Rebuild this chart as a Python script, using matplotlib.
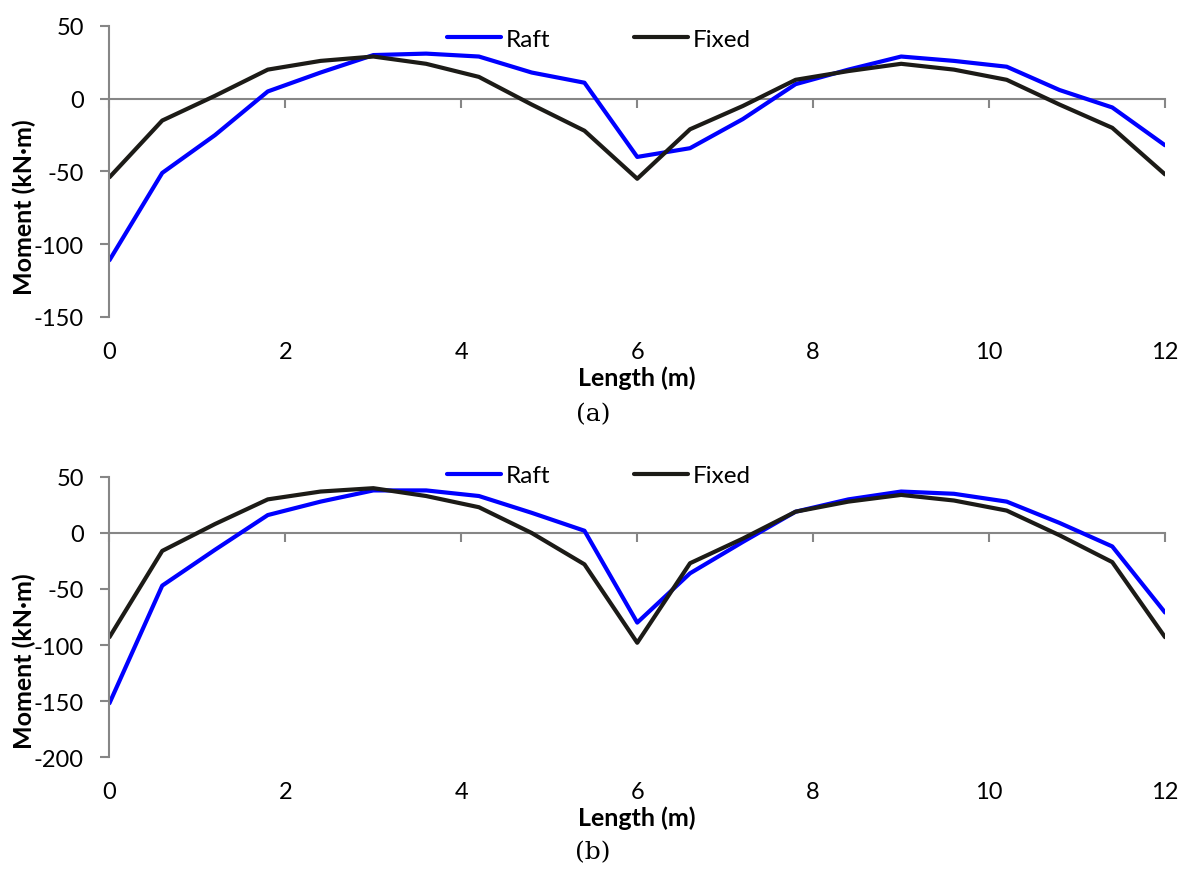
import matplotlib
matplotlib.use('Agg')
import matplotlib.pyplot as plt

length = [0, 0.6, 1.2, 1.8, 2.4, 3.0, 3.6, 4.2, 4.8, 5.4, 6.0,
          6.6, 7.2, 7.8, 8.4, 9.0, 9.6, 10.2, 10.8, 11.4, 12.0]

# (a)
raft_a = [-111, -51, -25, 5, 18, 30, 31, 29, 18, 11, -40,
          -34, -14, 10, 20, 29, 26, 22, 6, -6, -32]
fixed_a = [-54, -15, 2, 20, 26, 29, 24, 15, -4, -22, -55,
           -21, -5, 13, 19, 24, 20, 13, -4, -20, -52]

# (b)
raft_b = [-152, -47, -15, 16, 28, 38, 38, 33, 18, 2, -80,
          -36, -8, 19, 30, 37, 35, 28, 9, -12, -71]
fixed_b = [-93, -16, 8, 30, 37, 40, 33, 23, 0, -28, -98,
           -27, -5, 19, 28, 34, 29, 20, -2, -26, -93]

x_ticks = [0, 2, 4, 6, 8, 10, 12]
ylims_a = (-150, 50)
ylims_b = (-200, 50)

plt.rcParams['font.family'] = ['Lato', 'DejaVu Sans']
plt.rcParams['axes.unicode_minus'] = False
grey = '#868686'
blue = '#0000FF'
black = '#1C1B17'


def panel(ax, raft, fixed, ylim, xlab_y, ylab_y, leg_y):
    ax.plot(length, raft, color=blue, lw=3, label='Raft', solid_capstyle='round')
    ax.plot(length, fixed, color=black, lw=3, label='Fixed', solid_capstyle='round')
    ax.set_xlim(0, 12)
    ax.set_ylim(*ylim)
    ax.set_yticks(list(range(ylim[0], ylim[1] + 1, 50)))
    for s in ['top', 'right']:
        ax.spines[s].set_visible(False)
    ax.spines['left'].set_color(grey)
    ax.spines['left'].set_linewidth(1.5)
    ax.spines['bottom'].set_position(('data', 0))
    ax.spines['bottom'].set_color(grey)
    ax.spines['bottom'].set_linewidth(1.5)
    ax.spines['bottom'].set_zorder(0)
    ax.set_xticks(x_ticks)
    ax.tick_params(axis='x', labelbottom=False, direction='out', length=6.5,
                   width=1.5, color=grey)
    ax.tick_params(axis='y', direction='out', length=6.5, width=1.5, color=grey,
                   labelsize=17, pad=12)
    sec = ax.secondary_xaxis(0)
    sec.set_xticks(x_ticks)
    sec.tick_params(length=0, labelsize=17, pad=17)
    sec.spines['bottom'].set_visible(False)
    ax.set_ylabel('Moment (kN·m)', fontsize=18, fontweight='bold', va='center')
    ax.yaxis.set_label_coords(-0.0806, ylab_y)
    ax.text(0.5, xlab_y, 'Length (m)', transform=ax.transAxes, ha='center',
            va='center', fontsize=18, fontweight='bold')
    ax.legend(loc='center', bbox_to_anchor=(0.464, leg_y), ncol=2, frameon=False,
              fontsize=17.5, handlelength=2.22, handletextpad=0.2,
              columnspacing=3.45)


fig = plt.figure(figsize=(11.87, 8.7), dpi=100)
ax1 = fig.add_axes([0.0922, 0.6345, 0.8893, 0.3345])
ax2 = fig.add_axes([0.0922, 0.1287, 0.8893, 0.3219])

panel(ax1, raft_a, fixed_a, ylims_a, -0.206, 0.381, 0.955)
panel(ax2, raft_b, fixed_b, ylims_b, -0.214, 0.346, 1.004)

fig.text(593 / 1187, 1 - 415 / 870, '(a)', ha='center', va='center', fontsize=18,
         family='DejaVu Serif')
fig.text(593 / 1187, 1 - 853 / 870, '(b)', ha='center', va='center', fontsize=18,
         family='DejaVu Serif')

fig.savefig('out.png', dpi=100)
